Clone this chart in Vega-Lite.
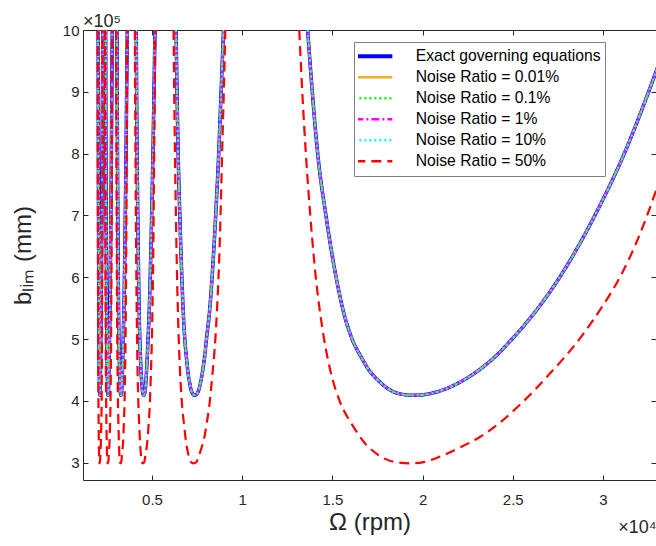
{
"$schema": "https://vega.github.io/schema/vega-lite/v6.json",
"width": 573, "height": 450,
"autosize": {"type": "none"},
"padding": {"left": 83, "top": 30, "right": 0, "bottom": 66},
"background": "white",
"config": {
  "view": {"stroke": null},
  "font": "Liberation Sans",
  "axis": {"domainColor": "#262626", "tickColor": "#262626", "labelColor": "#262626", "titleColor": "#262626", "labelFont": "Liberation Sans", "titleFont": "Liberation Sans", "labelFontSize": 15, "titleFontWeight": "normal", "grid": false, "tickSize": -5, "domainWidth": 1, "tickWidth": 1}
},
"title": {"text": "×10⁵", "anchor": "start", "frame": "group", "fontSize": 18, "fontWeight": "normal", "color": "#262626", "offset": -8, "font": "Liberation Sans"},
"datasets": {
"main": [
{"lobe":0,"rpm":13629,"b":1000000},{"lobe":0,"rpm":13885,"b":900000},{"lobe":0,"rpm":14185,"b":800000},{"lobe":0,"rpm":14641,"b":700000},{"lobe":0,"rpm":15206,"b":600000},{"lobe":0,"rpm":15566,"b":550000},{"lobe":0,"rpm":16095,"b":500000},{"lobe":0,"rpm":16615,"b":470000},{"lobe":0,"rpm":17022,"b":450000},{"lobe":0,"rpm":17657,"b":430000},{"lobe":0,"rpm":18061,"b":420000},{"lobe":0,"rpm":18659,"b":412000},{"lobe":0,"rpm":19489,"b":409000},{"lobe":0,"rpm":20450,"b":412000},{"lobe":0,"rpm":21330,"b":420000},{"lobe":0,"rpm":22050,"b":430000},{"lobe":0,"rpm":23130,"b":450000},{"lobe":0,"rpm":23960,"b":470000},{"lobe":0,"rpm":24960,"b":500000},{"lobe":0,"rpm":26400,"b":550000},{"lobe":0,"rpm":27600,"b":600000},{"lobe":0,"rpm":29550,"b":700000},{"lobe":0,"rpm":31180,"b":800000},{"lobe":0,"rpm":32530,"b":900000},{"lobe":0,"rpm":33760,"b":1000000},
{"lobe":1,"rpm":6333,"b":1000000},{"lobe":1,"rpm":6388,"b":900000},{"lobe":1,"rpm":6450,"b":800000},{"lobe":1,"rpm":6543,"b":700000},{"lobe":1,"rpm":6654,"b":600000},{"lobe":1,"rpm":6722,"b":550000},{"lobe":1,"rpm":6818,"b":500000},{"lobe":1,"rpm":6910,"b":470000},{"lobe":1,"rpm":6979,"b":450000},{"lobe":1,"rpm":7084,"b":430000},{"lobe":1,"rpm":7148,"b":420000},{"lobe":1,"rpm":7240,"b":412000},{"lobe":1,"rpm":7362,"b":409000},{"lobe":1,"rpm":7508,"b":412000},{"lobe":1,"rpm":7616,"b":420000},{"lobe":1,"rpm":7694,"b":430000},{"lobe":1,"rpm":7815,"b":450000},{"lobe":1,"rpm":7910,"b":470000},{"lobe":1,"rpm":8020,"b":500000},{"lobe":1,"rpm":8206,"b":550000},{"lobe":1,"rpm":8331,"b":600000},{"lobe":1,"rpm":8530,"b":700000},{"lobe":1,"rpm":8698,"b":800000},{"lobe":1,"rpm":8831,"b":900000},{"lobe":1,"rpm":8964,"b":1000000},
{"lobe":2,"rpm":4125,"b":1000000},{"lobe":2,"rpm":4148,"b":900000},{"lobe":2,"rpm":4174,"b":800000},{"lobe":2,"rpm":4213,"b":700000},{"lobe":2,"rpm":4258,"b":600000},{"lobe":2,"rpm":4286,"b":550000},{"lobe":2,"rpm":4325,"b":500000},{"lobe":2,"rpm":4362,"b":470000},{"lobe":2,"rpm":4390,"b":450000},{"lobe":2,"rpm":4431,"b":430000},{"lobe":2,"rpm":4456,"b":420000},{"lobe":2,"rpm":4491,"b":412000},{"lobe":2,"rpm":4538,"b":409000},{"lobe":2,"rpm":4592,"b":412000},{"lobe":2,"rpm":4632,"b":420000},{"lobe":2,"rpm":4659,"b":430000},{"lobe":2,"rpm":4701,"b":450000},{"lobe":2,"rpm":4737,"b":470000},{"lobe":2,"rpm":4780,"b":500000},{"lobe":2,"rpm":4852,"b":550000},{"lobe":2,"rpm":4901,"b":600000},{"lobe":2,"rpm":4982,"b":700000},{"lobe":2,"rpm":5052,"b":800000},{"lobe":2,"rpm":5110,"b":900000},{"lobe":2,"rpm":5167,"b":1000000},
{"lobe":3,"rpm":3058,"b":1000000},{"lobe":3,"rpm":3071,"b":900000},{"lobe":3,"rpm":3086,"b":800000},{"lobe":3,"rpm":3107,"b":700000},{"lobe":3,"rpm":3131,"b":600000},{"lobe":3,"rpm":3146,"b":550000},{"lobe":3,"rpm":3167,"b":500000},{"lobe":3,"rpm":3187,"b":470000},{"lobe":3,"rpm":3202,"b":450000},{"lobe":3,"rpm":3223,"b":430000},{"lobe":3,"rpm":3237,"b":420000},{"lobe":3,"rpm":3255,"b":412000},{"lobe":3,"rpm":3280,"b":409000},{"lobe":3,"rpm":3308,"b":412000},{"lobe":3,"rpm":3328,"b":420000},{"lobe":3,"rpm":3341,"b":430000},{"lobe":3,"rpm":3362,"b":450000},{"lobe":3,"rpm":3381,"b":470000},{"lobe":3,"rpm":3404,"b":500000},{"lobe":3,"rpm":3444,"b":550000},{"lobe":3,"rpm":3472,"b":600000},{"lobe":3,"rpm":3519,"b":700000},{"lobe":3,"rpm":3560,"b":800000},{"lobe":3,"rpm":3595,"b":900000},{"lobe":3,"rpm":3630,"b":1000000},
{"lobe":4,"rpm":2430,"b":1000000},{"lobe":4,"rpm":2438,"b":900000},{"lobe":4,"rpm":2447,"b":800000},{"lobe":4,"rpm":2460,"b":700000},{"lobe":4,"rpm":2476,"b":600000},{"lobe":4,"rpm":2485,"b":550000},{"lobe":4,"rpm":2498,"b":500000},{"lobe":4,"rpm":2511,"b":470000},{"lobe":4,"rpm":2520,"b":450000},{"lobe":4,"rpm":2533,"b":430000},{"lobe":4,"rpm":2541,"b":420000},{"lobe":4,"rpm":2553,"b":412000},{"lobe":4,"rpm":2568,"b":409000},{"lobe":4,"rpm":2585,"b":412000},{"lobe":4,"rpm":2597,"b":420000},{"lobe":4,"rpm":2604,"b":430000},{"lobe":4,"rpm":2616,"b":450000},{"lobe":4,"rpm":2629,"b":470000},{"lobe":4,"rpm":2644,"b":500000},{"lobe":4,"rpm":2670,"b":550000},{"lobe":4,"rpm":2688,"b":600000},{"lobe":4,"rpm":2720,"b":700000},{"lobe":4,"rpm":2749,"b":800000},{"lobe":4,"rpm":2773,"b":900000},{"lobe":4,"rpm":2798,"b":1000000},
{"lobe":5,"rpm":2016,"b":1000000},{"lobe":5,"rpm":2022,"b":900000},{"lobe":5,"rpm":2028,"b":800000},{"lobe":5,"rpm":2037,"b":700000},{"lobe":5,"rpm":2047,"b":600000},{"lobe":5,"rpm":2054,"b":550000},{"lobe":5,"rpm":2063,"b":500000},{"lobe":5,"rpm":2071,"b":470000},{"lobe":5,"rpm":2077,"b":450000},{"lobe":5,"rpm":2086,"b":430000},{"lobe":5,"rpm":2092,"b":420000},{"lobe":5,"rpm":2100,"b":412000},{"lobe":5,"rpm":2110,"b":409000},{"lobe":5,"rpm":2121,"b":412000},{"lobe":5,"rpm":2129,"b":420000},{"lobe":5,"rpm":2134,"b":430000},{"lobe":5,"rpm":2142,"b":450000},{"lobe":5,"rpm":2150,"b":470000},{"lobe":5,"rpm":2161,"b":500000},{"lobe":5,"rpm":2179,"b":550000},{"lobe":5,"rpm":2193,"b":600000},{"lobe":5,"rpm":2217,"b":700000},{"lobe":5,"rpm":2238,"b":800000},{"lobe":5,"rpm":2257,"b":900000},{"lobe":5,"rpm":2276,"b":1000000}
],
"red": [
{"lobe":0,"rpm":13165,"b":1000000},{"lobe":0,"rpm":13330,"b":900000},{"lobe":0,"rpm":13530,"b":800000},{"lobe":0,"rpm":13775,"b":700000},{"lobe":0,"rpm":14080,"b":600000},{"lobe":0,"rpm":14430,"b":520000},{"lobe":0,"rpm":14880,"b":450000},{"lobe":0,"rpm":15400,"b":400000},{"lobe":0,"rpm":16130,"b":360000},{"lobe":0,"rpm":16850,"b":330000},{"lobe":0,"rpm":17480,"b":314000},{"lobe":0,"rpm":17860,"b":307000},{"lobe":0,"rpm":18470,"b":301000},{"lobe":0,"rpm":19318,"b":299000},{"lobe":0,"rpm":20050,"b":301000},{"lobe":0,"rpm":20980,"b":310000},{"lobe":0,"rpm":22100,"b":325000},{"lobe":0,"rpm":23198,"b":342000},{"lobe":0,"rpm":24300,"b":365000},{"lobe":0,"rpm":25260,"b":390000},{"lobe":0,"rpm":26895,"b":439000},{"lobe":0,"rpm":28800,"b":504000},{"lobe":0,"rpm":29900,"b":550000},{"lobe":0,"rpm":30958,"b":601000},{"lobe":0,"rpm":32050,"b":670000},{"lobe":0,"rpm":32950,"b":741000},{"lobe":0,"rpm":33620,"b":800000},
{"lobe":1,"rpm":6195,"b":1000000},{"lobe":1,"rpm":6231,"b":900000},{"lobe":1,"rpm":6274,"b":800000},{"lobe":1,"rpm":6326,"b":700000},{"lobe":1,"rpm":6390,"b":600000},{"lobe":1,"rpm":6461,"b":520000},{"lobe":1,"rpm":6550,"b":450000},{"lobe":1,"rpm":6649,"b":400000},{"lobe":1,"rpm":6781,"b":360000},{"lobe":1,"rpm":6905,"b":330000},{"lobe":1,"rpm":7009,"b":314000},{"lobe":1,"rpm":7069,"b":307000},{"lobe":1,"rpm":7163,"b":301000},{"lobe":1,"rpm":7287,"b":299000},{"lobe":1,"rpm":7462,"b":301000},{"lobe":1,"rpm":7581,"b":310000},{"lobe":1,"rpm":7756,"b":325000},{"lobe":1,"rpm":7909,"b":342000},{"lobe":1,"rpm":8041,"b":365000},{"lobe":1,"rpm":8169,"b":390000},{"lobe":1,"rpm":8336,"b":439000},{"lobe":1,"rpm":8521,"b":504000},{"lobe":1,"rpm":8608,"b":550000},{"lobe":1,"rpm":8689,"b":601000},{"lobe":1,"rpm":8770,"b":670000},{"lobe":1,"rpm":8836,"b":741000},{"lobe":1,"rpm":8886,"b":800000},{"lobe":1,"rpm":8981,"b":900000},{"lobe":1,"rpm":9063,"b":1000000},
{"lobe":2,"rpm":4050,"b":1000000},{"lobe":2,"rpm":4066,"b":900000},{"lobe":2,"rpm":4084,"b":800000},{"lobe":2,"rpm":4106,"b":700000},{"lobe":2,"rpm":4133,"b":600000},{"lobe":2,"rpm":4163,"b":520000},{"lobe":2,"rpm":4199,"b":450000},{"lobe":2,"rpm":4240,"b":400000},{"lobe":2,"rpm":4293,"b":360000},{"lobe":2,"rpm":4342,"b":330000},{"lobe":2,"rpm":4383,"b":314000},{"lobe":2,"rpm":4407,"b":307000},{"lobe":2,"rpm":4443,"b":301000},{"lobe":2,"rpm":4490,"b":299000},{"lobe":2,"rpm":4571,"b":301000},{"lobe":2,"rpm":4626,"b":310000},{"lobe":2,"rpm":4703,"b":325000},{"lobe":2,"rpm":4767,"b":342000},{"lobe":2,"rpm":4820,"b":365000},{"lobe":2,"rpm":4873,"b":390000},{"lobe":2,"rpm":4932,"b":439000},{"lobe":2,"rpm":4997,"b":504000},{"lobe":2,"rpm":5026,"b":550000},{"lobe":2,"rpm":5054,"b":601000},{"lobe":2,"rpm":5081,"b":670000},{"lobe":2,"rpm":5103,"b":741000},{"lobe":2,"rpm":5120,"b":800000},{"lobe":2,"rpm":5151,"b":900000},{"lobe":2,"rpm":5178,"b":1000000},
{"lobe":3,"rpm":3009,"b":1000000},{"lobe":3,"rpm":3017,"b":900000},{"lobe":3,"rpm":3027,"b":800000},{"lobe":3,"rpm":3039,"b":700000},{"lobe":3,"rpm":3054,"b":600000},{"lobe":3,"rpm":3070,"b":520000},{"lobe":3,"rpm":3090,"b":450000},{"lobe":3,"rpm":3112,"b":400000},{"lobe":3,"rpm":3141,"b":360000},{"lobe":3,"rpm":3167,"b":330000},{"lobe":3,"rpm":3189,"b":314000},{"lobe":3,"rpm":3201,"b":307000},{"lobe":3,"rpm":3220,"b":301000},{"lobe":3,"rpm":3245,"b":299000},{"lobe":3,"rpm":3295,"b":301000},{"lobe":3,"rpm":3329,"b":310000},{"lobe":3,"rpm":3375,"b":325000},{"lobe":3,"rpm":3412,"b":342000},{"lobe":3,"rpm":3441,"b":365000},{"lobe":3,"rpm":3472,"b":390000},{"lobe":3,"rpm":3502,"b":439000},{"lobe":3,"rpm":3535,"b":504000},{"lobe":3,"rpm":3550,"b":550000},{"lobe":3,"rpm":3563,"b":601000},{"lobe":3,"rpm":3577,"b":670000},{"lobe":3,"rpm":3588,"b":741000},{"lobe":3,"rpm":3596,"b":800000},{"lobe":3,"rpm":3611,"b":900000},{"lobe":3,"rpm":3624,"b":1000000},
{"lobe":4,"rpm":2393,"b":1000000},{"lobe":4,"rpm":2399,"b":900000},{"lobe":4,"rpm":2405,"b":800000},{"lobe":4,"rpm":2413,"b":700000},{"lobe":4,"rpm":2422,"b":600000},{"lobe":4,"rpm":2432,"b":520000},{"lobe":4,"rpm":2444,"b":450000},{"lobe":4,"rpm":2458,"b":400000},{"lobe":4,"rpm":2476,"b":360000},{"lobe":4,"rpm":2492,"b":330000},{"lobe":4,"rpm":2506,"b":314000},{"lobe":4,"rpm":2513,"b":307000},{"lobe":4,"rpm":2525,"b":301000},{"lobe":4,"rpm":2540,"b":299000},{"lobe":4,"rpm":2576,"b":301000},{"lobe":4,"rpm":2600,"b":310000},{"lobe":4,"rpm":2632,"b":325000},{"lobe":4,"rpm":2656,"b":342000},{"lobe":4,"rpm":2676,"b":365000},{"lobe":4,"rpm":2697,"b":390000},{"lobe":4,"rpm":2715,"b":439000},{"lobe":4,"rpm":2735,"b":504000},{"lobe":4,"rpm":2743,"b":550000},{"lobe":4,"rpm":2752,"b":601000},{"lobe":4,"rpm":2760,"b":670000},{"lobe":4,"rpm":2766,"b":741000},{"lobe":4,"rpm":2771,"b":800000},{"lobe":4,"rpm":2780,"b":900000},{"lobe":4,"rpm":2788,"b":1000000},
{"lobe":5,"rpm":1987,"b":1000000},{"lobe":5,"rpm":1991,"b":900000},{"lobe":5,"rpm":1995,"b":800000},{"lobe":5,"rpm":2000,"b":700000},{"lobe":5,"rpm":2007,"b":600000},{"lobe":5,"rpm":2013,"b":520000},{"lobe":5,"rpm":2022,"b":450000},{"lobe":5,"rpm":2031,"b":400000},{"lobe":5,"rpm":2044,"b":360000},{"lobe":5,"rpm":2055,"b":330000},{"lobe":5,"rpm":2064,"b":314000},{"lobe":5,"rpm":2069,"b":307000},{"lobe":5,"rpm":2077,"b":301000},{"lobe":5,"rpm":2087,"b":299000},{"lobe":5,"rpm":2114,"b":301000},{"lobe":5,"rpm":2133,"b":310000},{"lobe":5,"rpm":2157,"b":325000},{"lobe":5,"rpm":2175,"b":342000},{"lobe":5,"rpm":2189,"b":365000},{"lobe":5,"rpm":2205,"b":390000},{"lobe":5,"rpm":2217,"b":439000},{"lobe":5,"rpm":2230,"b":504000},{"lobe":5,"rpm":2236,"b":550000},{"lobe":5,"rpm":2241,"b":601000},{"lobe":5,"rpm":2246,"b":670000},{"lobe":5,"rpm":2251,"b":741000},{"lobe":5,"rpm":2254,"b":800000},{"lobe":5,"rpm":2260,"b":900000},{"lobe":5,"rpm":2265,"b":1000000}
]
},
"layer": [
{
  "encoding": {
    "x": {"field": "rpm", "type": "quantitative", "scale": {"domain": [1175, 32940], "nice": false, "zero": false},
          "axis": {"orient": "bottom", "title": "Ω (rpm)", "values": [5000,10000,15000,20000,25000,30000], "labelExpr": "'' + datum.value / 10000", "labelPadding": 17, "titleFontSize": 24, "titlePadding": 3}},
    "y": {"field": "b", "type": "quantitative", "scale": {"domain": [272000, 1000000], "nice": false, "zero": false},
          "axis": {"orient": "left", "title": "bₗᵢₘ (mm)", "values": [300000,400000,500000,600000,700000,800000,900000,1000000], "labelExpr": "'' + datum.value / 100000", "labelPadding": 9, "titleFontSize": 24, "titlePadding": 27}},
    "detail": {"field": "lobe", "type": "nominal"}
  },
  "layer": [
    {"data": {"name": "main"}, "mark": {"type": "line", "clip": true, "strokeWidth": 3.5, "interpolate": "monotone"},
     "encoding": {
       "color": {"datum": "Exact governing equations", "type": "nominal",
         "scale": {"domain": ["Exact governing equations","Noise Ratio = 0.01%","Noise Ratio = 0.1%","Noise Ratio = 1%","Noise Ratio = 10%","Noise Ratio = 50%"], "range": ["#0000ff","#edb120","#00ff00","#ff00ff","#00ffff","#ff0000"]},
         "legend": {"orient": "none", "legendX": 271, "legendY": 12, "title": null, "symbolType": "stroke", "symbolSize": 2809, "symbolStrokeWidth": 2.5, "labelFontSize": 15.7, "labelFont": "Liberation Sans", "labelColor": "#000000", "clipHeight": 20.6, "rowPadding": 0, "padding": 4, "strokeColor": "#808080", "fillColor": "white", "labelOffset": 42, "labelLimit": 400,
           "encode": {"symbols": {"update": {"strokeWidth": {"signal": "datum.value === 'Exact governing equations' ? 4 : 2.5"}}}}}},
       "strokeDash": {"datum": "Exact governing equations", "type": "nominal",
         "scale": {"domain": ["Exact governing equations","Noise Ratio = 0.01%","Noise Ratio = 0.1%","Noise Ratio = 1%","Noise Ratio = 10%","Noise Ratio = 50%"], "range": [[1,0],[1,0],[2,3],[8,3,2,3],[2,3],[10,6]]}}
     }},
    {"data": {"name": "main"}, "mark": {"type": "line", "clip": true, "strokeWidth": 2, "interpolate": "monotone"},
     "encoding": {
       "color": {"datum": "Noise Ratio = 0.01%", "type": "nominal", "scale": {"domain": ["Exact governing equations","Noise Ratio = 0.01%","Noise Ratio = 0.1%","Noise Ratio = 1%","Noise Ratio = 10%","Noise Ratio = 50%"], "range": ["#0000ff","#edb120","#00ff00","#ff00ff","#00ffff","#ff0000"]}},
       "strokeDash": {"datum": "Noise Ratio = 0.01%", "type": "nominal", "scale": {"domain": ["Exact governing equations","Noise Ratio = 0.01%","Noise Ratio = 0.1%","Noise Ratio = 1%","Noise Ratio = 10%","Noise Ratio = 50%"], "range": [[1,0],[1,0],[2,3],[8,3,2,3],[2,3],[10,6]]}}
     }},
    {"data": {"name": "main"}, "mark": {"type": "line", "clip": true, "strokeWidth": 2.2, "interpolate": "monotone"},
     "encoding": {
       "color": {"datum": "Noise Ratio = 0.1%", "type": "nominal", "scale": {"domain": ["Exact governing equations","Noise Ratio = 0.01%","Noise Ratio = 0.1%","Noise Ratio = 1%","Noise Ratio = 10%","Noise Ratio = 50%"], "range": ["#0000ff","#edb120","#00ff00","#ff00ff","#00ffff","#ff0000"]}},
       "strokeDash": {"datum": "Noise Ratio = 0.1%", "type": "nominal", "scale": {"domain": ["Exact governing equations","Noise Ratio = 0.01%","Noise Ratio = 0.1%","Noise Ratio = 1%","Noise Ratio = 10%","Noise Ratio = 50%"], "range": [[1,0],[1,0],[2,3],[8,3,2,3],[2,3],[10,6]]}}
     }},
    {"data": {"name": "main"}, "mark": {"type": "line", "clip": true, "strokeWidth": 2.2, "interpolate": "monotone"},
     "encoding": {
       "color": {"datum": "Noise Ratio = 1%", "type": "nominal", "scale": {"domain": ["Exact governing equations","Noise Ratio = 0.01%","Noise Ratio = 0.1%","Noise Ratio = 1%","Noise Ratio = 10%","Noise Ratio = 50%"], "range": ["#0000ff","#edb120","#00ff00","#ff00ff","#00ffff","#ff0000"]}},
       "strokeDash": {"datum": "Noise Ratio = 1%", "type": "nominal", "scale": {"domain": ["Exact governing equations","Noise Ratio = 0.01%","Noise Ratio = 0.1%","Noise Ratio = 1%","Noise Ratio = 10%","Noise Ratio = 50%"], "range": [[1,0],[1,0],[2,3],[8,3,2,3],[2,3],[10,6]]}}
     }},
    {"data": {"name": "main"}, "mark": {"type": "line", "clip": true, "strokeWidth": 2.2, "interpolate": "monotone"},
     "encoding": {
       "color": {"datum": "Noise Ratio = 10%", "type": "nominal", "scale": {"domain": ["Exact governing equations","Noise Ratio = 0.01%","Noise Ratio = 0.1%","Noise Ratio = 1%","Noise Ratio = 10%","Noise Ratio = 50%"], "range": ["#0000ff","#edb120","#00ff00","#ff00ff","#00ffff","#ff0000"]}},
       "strokeDash": {"datum": "Noise Ratio = 10%", "type": "nominal", "scale": {"domain": ["Exact governing equations","Noise Ratio = 0.01%","Noise Ratio = 0.1%","Noise Ratio = 1%","Noise Ratio = 10%","Noise Ratio = 50%"], "range": [[1,0],[1,0],[2,3],[8,3,2,3],[2,3],[10,6]]}}
     }},
    {"data": {"name": "red"}, "mark": {"type": "line", "clip": true, "strokeWidth": 2.2, "interpolate": "monotone"},
     "encoding": {
       "color": {"datum": "Noise Ratio = 50%", "type": "nominal", "scale": {"domain": ["Exact governing equations","Noise Ratio = 0.01%","Noise Ratio = 0.1%","Noise Ratio = 1%","Noise Ratio = 10%","Noise Ratio = 50%"], "range": ["#0000ff","#edb120","#00ff00","#ff00ff","#00ffff","#ff0000"]}},
       "strokeDash": {"datum": "Noise Ratio = 50%", "type": "nominal", "scale": {"domain": ["Exact governing equations","Noise Ratio = 0.01%","Noise Ratio = 0.1%","Noise Ratio = 1%","Noise Ratio = 10%","Noise Ratio = 50%"], "range": [[1,0],[1,0],[2,3],[8,3,2,3],[2,3],[10,6]]}}
     }}
  ]
},
{
  "data": {"name": "red"},
  "mark": {"type": "point", "opacity": 0},
  "encoding": {
    "x": {"field": "rpm", "type": "quantitative", "scale": {"domain": [1175, 32940], "nice": false, "zero": false},
          "axis": {"orient": "top", "title": null, "labels": false, "values": [5000,10000,15000,20000,25000,30000]}},
    "y": {"field": "b", "type": "quantitative", "scale": {"domain": [272000, 1000000], "nice": false, "zero": false},
          "axis": {"orient": "right", "title": null, "labels": false, "values": [300000,400000,500000,600000,700000,800000,900000,1000000]}}
  }
},
{
  "data": {"name": "red"},
  "mark": {"type": "point", "opacity": 0},
  "encoding": {
    "x": {"field": "rpm", "type": "quantitative", "scale": {"domain": [1175, 32940], "nice": false, "zero": false},
          "axis": {"orient": "bottom", "title": "×10⁴", "labels": false, "ticks": false, "domain": false, "titleAnchor": "end", "titleFontSize": 18, "titlePadding": 38}},
    "y": {"field": "b", "type": "quantitative", "scale": {"domain": [272000, 1000000], "nice": false, "zero": false}, "axis": null}
  }
}
],
"resolve": {"axis": {"x": "independent", "y": "independent"}}
}
